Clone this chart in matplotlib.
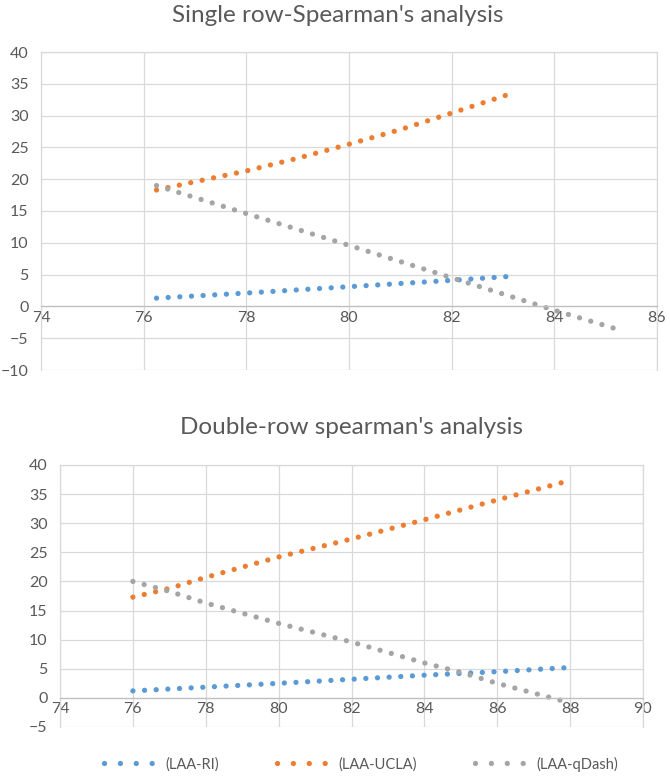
import matplotlib
matplotlib.use('Agg')
import matplotlib.pyplot as plt
from matplotlib.lines import Line2D

plt.rcParams['font.family'] = ['Lato', 'DejaVu Sans']

# ---- data ----
# single row
s_ri_x = [76.25, 78, 80, 82, 83.2]
s_ri_y = [1.3, 2.1, 3.1, 4.1, 4.75]
s_ucla_x = [76.25, 77, 78, 79, 80, 81, 82, 83.25]
s_ucla_y = [18.3, 19.6, 21.3, 23.3, 25.5, 27.8, 30.4, 33.7]
s_qdash_x = [76.25, 78, 80, 82, 84, 85.15]
s_qdash_y = [19.0, 14.6, 9.6, 4.5, -0.6, -3.4]

# double row
d_ri_x = [76, 80, 84, 86, 87.95]
d_ri_y = [1.2, 2.5, 3.9, 4.5, 5.2]
d_ucla_x = [76, 77, 78, 80, 82, 84, 86, 87.85]
d_ucla_y = [17.3, 18.8, 20.7, 24.2, 27.3, 30.6, 34.0, 37.1]
d_qdash_x = [76, 77, 78, 80, 82, 84, 85, 86, 87.85]
d_qdash_y = [20.0, 18.3, 16.3, 12.8, 9.6, 6.0, 4.4, 2.5, -0.6]

series_names = ['(LAA-RI)', '(LAA-UCLA)', '(LAA-qDash)']
colors = ['#5B9BD5', '#ED7D31', '#A5A5A5']

grid_col = '#D9D9D9'
text_col = '#595959'
dot_style = dict(lw=3.8, linestyle=(0, (0.01, 2.2)), dash_capstyle='round')

W, H = 670, 778
fig = plt.figure(figsize=(W / 100, H / 100), dpi=100)


def style_axes(ax, xticks, yticks):
    ax.set_xlim(xticks[0], xticks[-1])
    ax.set_ylim(yticks[0], yticks[-1])
    ax.set_xticks(xticks)
    ax.set_yticks(yticks)
    ax.grid(True, color=grid_col, lw=0.9)
    ax.set_axisbelow(True)
    for s in ['left', 'right', 'top']:
        ax.spines[s].set_color(grid_col)
        ax.spines[s].set_linewidth(0.9)
    ax.spines['bottom'].set_position(('data', 0))
    ax.spines['bottom'].set_color('#BFBFBF')
    ax.spines['bottom'].set_linewidth(0.9)
    ax.tick_params(length=0, labelsize=11.5, labelcolor=text_col)
    ax.tick_params(axis='y', pad=9)
    ax.tick_params(axis='x', pad=3)


# ---- top chart ----
ax1 = fig.add_axes([41 / W, 1 - 370 / H, 616 / W, 318 / H])
style_axes(ax1, list(range(74, 87, 2)), list(range(-10, 41, 5)))
for xs, ys, c in zip([s_ri_x, s_ucla_x, s_qdash_x], [s_ri_y, s_ucla_y, s_qdash_y], colors):
    ax1.plot(xs, ys, color=c, **dot_style)
fig.text(338 / W, 1 - 15 / H, "Single row-Spearman's analysis", ha='center', va='center',
         fontsize=17.5, color=text_col)

# ---- bottom chart ----
ax2 = fig.add_axes([60 / W, 1 - 727 / H, 583 / W, 262 / H])
style_axes(ax2, list(range(74, 91, 2)), list(range(-5, 41, 5)))
for xs, ys, c in zip([d_ri_x, d_ucla_x, d_qdash_x], [d_ri_y, d_ucla_y, d_qdash_y], colors):
    ax2.plot(xs, ys, color=c, **dot_style)
fig.text(352 / W, 1 - 428 / H, "Double-row spearman's analysis", ha='center', va='center',
         fontsize=17.5, color=text_col)

# legend
handles = [Line2D([0], [0], color=c, lw=3.8, linestyle=(0, (0.01, 3.0)),
                  dash_capstyle='round') for c in colors]
fig.legend(handles, series_names, loc='center', bbox_to_anchor=(361 / W, 1 - 764 / H),
           ncol=3, frameon=False, fontsize=10.5, labelcolor=text_col,
           handlelength=3.3, columnspacing=4.0, handletextpad=0.9)

fig.savefig('out.png', dpi=100)
